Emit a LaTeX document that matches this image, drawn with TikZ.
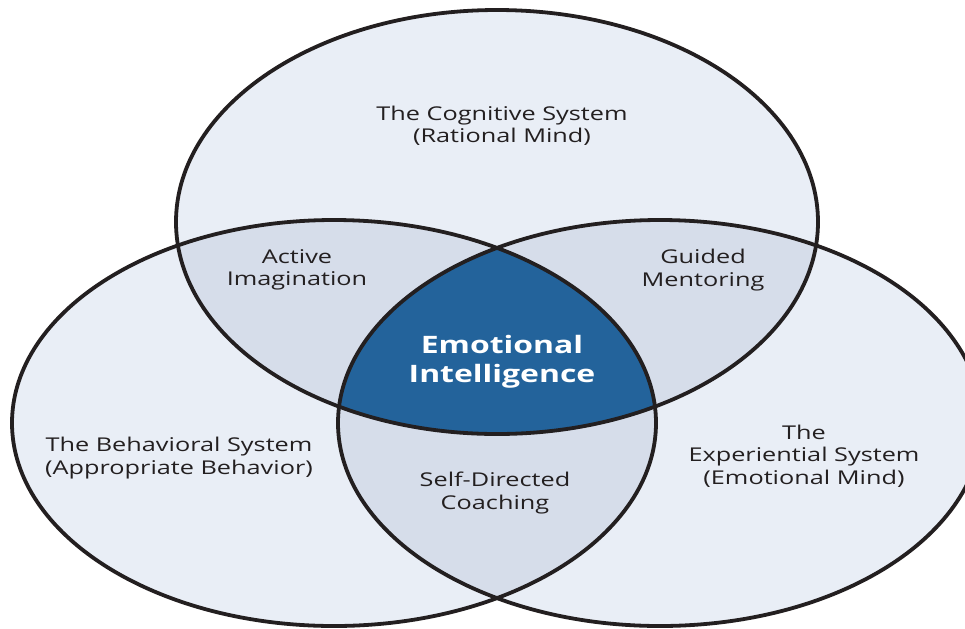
\documentclass[tikz,border=0pt]{standalone}
\usepackage{fontspec}
\setmainfont{Open Sans}[FakeStretch=1.33]
\usetikzlibrary{positioning}

\definecolor{pale}{HTML}{E9EEF6}
\definecolor{overlap}{HTML}{D6DDEA}
\definecolor{core}{HTML}{23639B}
\definecolor{rim}{HTML}{231F20}

\tikzset{
	system/.style={align=center, text=rim, font=\fontsize{9.5}{11.2}\selectfont},
	heart/.style={align=center, text=white, font=\fontsize{12}{14.6}\selectfont\bfseries}
}

\begin{document}
\begin{tikzpicture}[x=0.5pt,y=-0.5pt]
		\useasboundingbox (0,0) rectangle (965,628);
		\coordinate (cog) at (497,222);
		\coordinate (beh) at (334,423);
		\coordinate (exp) at (660,423);

		% the three systems
		\fill [pale] (cog) ellipse [x radius=321, y radius=212];
		\fill [pale] (beh) ellipse [x radius=322, y radius=203];
		\fill [pale] (exp) ellipse [x radius=322, y radius=203];

		% pairwise overlaps
		\begin{scope}
			\clip (cog) ellipse [x radius=321, y radius=212];
			\fill [overlap] (beh) ellipse [x radius=322, y radius=203];
			\fill [overlap] (exp) ellipse [x radius=322, y radius=203];
		\end{scope}
		\begin{scope}
			\clip (beh) ellipse [x radius=322, y radius=203];
			\fill [overlap] (exp) ellipse [x radius=322, y radius=203];
		\end{scope}

		% all three
		\begin{scope}
			\clip (cog) ellipse [x radius=321, y radius=212];
			\clip (beh) ellipse [x radius=322, y radius=203];
			\fill [core] (exp) ellipse [x radius=322, y radius=203];
		\end{scope}

		\draw [rim, line width=1.9pt] (cog) ellipse [x radius=321, y radius=212];
		\draw [rim, line width=1.9pt] (beh) ellipse [x radius=322, y radius=203];
		\draw [rim, line width=1.9pt] (exp) ellipse [x radius=322, y radius=203];

		\draw (502,126) node [system] (cognitive) {The Cognitive System\\(Rational Mind)};
		\draw (179,458) node [system] (behavioral) {The Behavioral System\\(Appropriate Behavior)};
		\draw (804,456) node [system] (experiential) {The\\Experiential System\\(Emotional Mind)};
		\draw (297,270) node [system] (imagination) {Active\\Imagination};
		\draw (703,270) node [system] (mentoring) {Guided\\Mentoring};
		\draw (495,493) node [system] (coaching) {Self-Directed\\Coaching};
		\draw (502,362) node [heart] (ei) {Emotional\\Intelligence};
	\end{tikzpicture}
\end{document}
